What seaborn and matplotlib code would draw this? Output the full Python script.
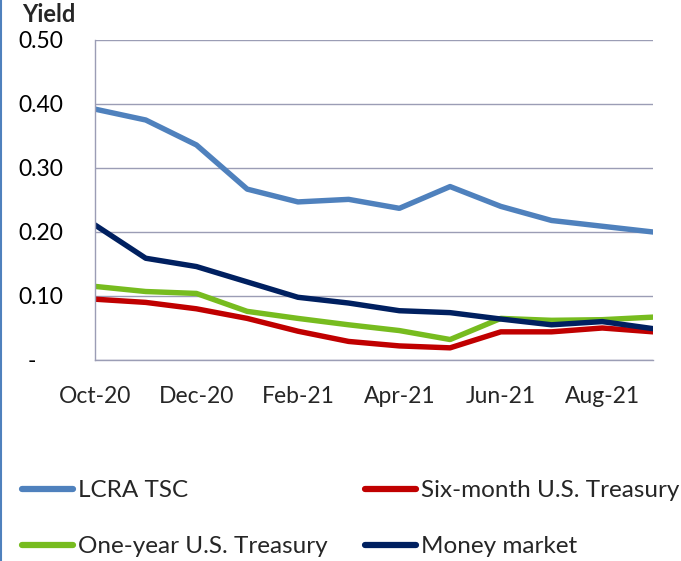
import matplotlib
matplotlib.use("Agg")
import matplotlib.pyplot as plt
import seaborn as sns
import pandas as pd
from matplotlib.lines import Line2D

months = ["Oct-20", "Nov-20", "Dec-20", "Jan-21", "Feb-21", "Mar-21",
          "Apr-21", "May-21", "Jun-21", "Jul-21", "Aug-21", "Sep-21"]
lcra_tsc = [0.392, 0.375, 0.336, 0.267, 0.247, 0.251, 0.237, 0.271, 0.240, 0.218, 0.209, 0.200]
six_month = [0.095, 0.090, 0.080, 0.065, 0.045, 0.029, 0.022, 0.019, 0.044, 0.044, 0.050, 0.044]
one_year = [0.115, 0.107, 0.104, 0.076, 0.065, 0.055, 0.046, 0.032, 0.065, 0.062, 0.063, 0.067]
money_market = [0.211, 0.159, 0.146, 0.122, 0.098, 0.089, 0.077, 0.074, 0.064, 0.055, 0.060, 0.049]

series_names = ["LCRA TSC", "Six-month U.S. Treasury", "One-year U.S. Treasury", "Money market"]
series_values = [lcra_tsc, six_month, one_year, money_market]
colors = ["#4F81BD", "#C00000", "#77BC1F", "#002060"]
y_ticks = [0.0, 0.1, 0.2, 0.3, 0.4, 0.5]
y_labels = ["-\u2007\u2007", "0.10", "0.20", "0.30", "0.40", "0.50"]
x_tick_idx = [0, 2, 4, 6, 8, 10]

rows = []
for name, vals in zip(series_names, series_values):
    for i, v in enumerate(vals):
        rows.append({"idx": i, "Yield": v, "Series": name})
df = pd.DataFrame(rows)

sns.set_theme(style="white")
plt.rcParams["font.family"] = ["Lato", "DejaVu Sans"]

fig = plt.figure(figsize=(6.81, 5.61), dpi=100)
ax = fig.add_axes([95 / 681, 1 - 360 / 561, (653 - 95) / 681, 320 / 561])

palette = dict(zip(series_names, colors))
sns.lineplot(data=df, x="idx", y="Yield", hue="Series", hue_order=series_names,
             palette=palette, linewidth=3.9, ax=ax, legend=False, sort=False)

grid_c = "#9B9DB5"
ax.set_xlim(0, 11)
ax.set_ylim(0, 0.5)
ax.set_yticks(y_ticks)
ax.set_yticklabels(y_labels, fontsize=16.5)
ax.set_xticks(x_tick_idx)
ax.set_xticklabels([months[i] for i in x_tick_idx], fontsize=16.5)
ax.yaxis.grid(True, color=grid_c, linewidth=1)
ax.xaxis.grid(False)
ax.set_axisbelow(True)
for s in ["top", "right"]:
    ax.spines[s].set_visible(False)
ax.spines["left"].set_color(grid_c)
ax.spines["bottom"].set_color(grid_c)
ax.spines["left"].set_linewidth(1)
ax.spines["bottom"].set_linewidth(1)
ax.tick_params(axis="y", length=0, pad=23, colors="black")
ax.tick_params(axis="x", direction="inout", length=16, width=1, color=grid_c, pad=11)
ax.set_xlabel("")
ax.set_ylabel("")

fig.text(22 / 681, 1 - 15 / 561, "Yield", fontsize=17, fontweight="bold", va="center", ha="left")

# legend order so that rows read: LCRA TSC | Six-month ; One-year | Money market
leg_order = [0, 2, 1, 3]
handles = [Line2D([0], [0], color=colors[i], linewidth=4.5, solid_capstyle="round") for i in leg_order]
labels = [series_names[i] for i in leg_order]
leg = fig.legend(handles, labels, loc="upper left", bbox_to_anchor=(22 / 681, 1 - 480 / 561),
                 ncol=2, frameon=False, fontsize=17.5, handlelength=2.1, handletextpad=0.2,
                 columnspacing=1.55, labelspacing=1.45, borderpad=0, borderaxespad=0)

fig.add_artist(Line2D([0.002, 0.002], [0, 1], color="#4F81BD", linewidth=1.5,
                      transform=fig.transFigure))

fig.savefig("out.png", dpi=100)
